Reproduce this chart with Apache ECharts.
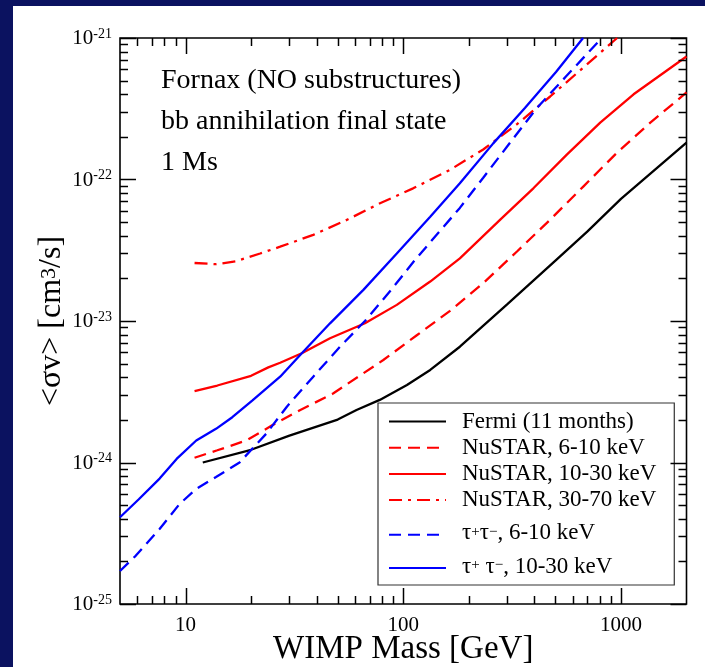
<!DOCTYPE html>
<html>
<head>
<meta charset="utf-8">
<script src="https://cdn.jsdelivr.net/npm/echarts@6/dist/echarts.min.js"></script>
<style>
  html, body { margin: 0; padding: 0; background: #0b1260; }
  #chart { width: 705px; height: 667px; }
</style>
</head>
<body>
<div id="chart"></div>
<script>
// WIMP mass grid (GeV) and <sigma v> upper limits (cm^3/s) for each curve
const fermiMass  = [12, 20, 30, 50, 61, 78, 104, 133, 182, 300, 500, 700, 1000, 2000];
const fermiSigma = [1.0e-24, 1.23e-24, 1.55e-24, 2.01e-24, 2.35e-24, 2.77e-24, 3.53e-24, 4.51e-24, 6.58e-24, 1.31e-23, 2.67e-23, 4.28e-23, 7.3e-23, 1.82e-22];

const nu610Mass  = [11, 14, 19, 25, 33.5, 47.6, 63, 81, 115, 164, 233, 333, 473, 673, 960, 1364, 2000];
const nu610Sigma = [1.08e-24, 1.22e-24, 1.43e-24, 1.83e-24, 2.34e-24, 3.07e-24, 4.1e-24, 5.3e-24, 7.9e-24, 1.18e-23, 1.85e-23, 3.1e-23, 5.2e-23, 8.95e-23, 1.55e-22, 2.52e-22, 4.12e-22];

const nu1030Mass  = [11, 14, 20, 24, 27.2, 34.2, 46.1, 66.7, 93.4, 133, 182, 279, 397, 564, 803, 1143, 2000];
const nu1030Sigma = [3.2e-24, 3.5e-24, 4.1e-24, 4.7e-24, 5.07e-24, 5.91e-24, 7.55e-24, 9.63e-24, 1.3e-23, 1.9e-23, 2.77e-23, 5.2e-23, 8.7e-23, 1.5e-22, 2.52e-22, 4.0e-22, 7.4e-22];

const nu3070Mass  = [11, 13.8, 17, 22, 27.2, 38.6, 55, 78.2, 111, 164, 233, 333, 473, 673, 960];
const nu3070Sigma = [2.57e-23, 2.52e-23, 2.64e-23, 3.0e-23, 3.35e-23, 4.06e-23, 5.18e-23, 6.79e-23, 8.66e-23, 1.17e-22, 1.63e-22, 2.46e-22, 3.86e-22, 6.2e-22, 1.0e-21];

const tau610Mass  = [5, 5.9, 7.6, 9.4, 11.2, 13.8, 17.7, 23.5, 29.2, 38.6, 51.3, 66.7, 86.9, 111, 143, 182, 233, 300, 410, 560, 785];
const tau610Sigma = [1.71e-25, 2.19e-25, 3.39e-25, 5.1e-25, 6.5e-25, 7.9e-25, 1.0e-24, 1.6e-24, 2.48e-24, 4.04e-24, 6.6e-24, 1.0e-23, 1.62e-23, 2.6e-23, 4.1e-23, 6.3e-23, 1.03e-22, 1.71e-22, 3.19e-22, 5.36e-22, 9.37e-22];

const tau1030Mass  = [5, 6.1, 7.6, 9.1, 11.2, 13.8, 16.4, 20.3, 27.2, 34.2, 46.1, 65.6, 93.4, 133, 182, 259, 362, 503, 670];
const tau1030Sigma = [4.1e-25, 5.5e-25, 7.7e-25, 1.06e-24, 1.43e-24, 1.73e-24, 2.09e-24, 2.75e-24, 4.04e-24, 5.91e-24, 9.63e-24, 1.66e-23, 3.0e-23, 5.45e-23, 9.4e-23, 1.8e-22, 3.2e-22, 5.75e-22, 1.0e-21];

// Axis ranges and labelled decades
const xMin = 5, xMax = 2000;
const yMin = 1e-25, yMax = 1e-21;
const xDecades = [10, 100, 1000];
const yDecades = [1e-25, 1e-24, 1e-23, 1e-22, 1e-21];

const seriesNames = [
  'Fermi (11 months)',
  'NuSTAR, 6-10 keV',
  'NuSTAR, 10-30 keV',
  'NuSTAR, 30-70 keV',
  'τ+τ−, 6-10 keV',
  'τ+ τ−, 10-30 keV'
];

const notes = ['Fornax (NO substructures)', 'bb annihilation final state', '1 Ms'];

const SERIF = "'Liberation Serif', 'DejaVu Serif', serif";

// The log scale loses precision on values this small, so the y axis works
// in multiples of Y_UNIT and the labels put the exponent back.
const Y_UNIT = 1e-25;
const Y_EXP0 = -25;
const toAxis = v => v / Y_UNIT;

function pairs(ms, vs) { return ms.map((m, i) => [m, toAxis(vs[i])]); }

// minor tick positions (2..9 within each decade) strictly inside the ranges
const xMinor = [];
[1, 10, 100, 1000].forEach(d => { for (let k = 2; k <= 9; k++) { const v = k * d; if (v > xMin && v < xMax) xMinor.push(v); } });
const yMinor = [];
[1, 10, 100, 1000].forEach(d => { for (let k = 2; k <= 9; k++) yMinor.push(k * d); });

const TICK_STYLE = { stroke: '#000', lineWidth: 1.5 };

function xTickSeries(values, len) {
  return {
    type: 'custom', silent: true, clip: false, z: 5,
    data: values.map(v => [v, 100]),
    renderItem: function (params, api) {
      const cs = params.coordSys;
      const x = Math.round(api.coord([api.value(0), 100])[0]) + 0.5;
      const b = cs.y + cs.height;
      return { type: 'group', children: [
        { type: 'line', shape: { x1: x, y1: b, x2: x, y2: b - len }, style: TICK_STYLE },
        { type: 'line', shape: { x1: x, y1: cs.y, x2: x, y2: cs.y + len }, style: TICK_STYLE }
      ] };
    }
  };
}

function yTickSeries(values, len) {
  return {
    type: 'custom', silent: true, clip: false, z: 5,
    data: values.map(v => [10, v]),
    renderItem: function (params, api) {
      const cs = params.coordSys;
      const y = Math.round(api.coord([10, api.value(1)])[1]) + 0.5;
      const r = cs.x + cs.width;
      return { type: 'group', children: [
        { type: 'line', shape: { x1: cs.x, y1: y, x2: cs.x + len, y2: y }, style: TICK_STYLE },
        { type: 'line', shape: { x1: r, y1: y, x2: r - len, y2: y }, style: TICK_STYLE }
      ] };
    }
  };
}

function lineSeries(name, ms, vs, color, dash) {
  return {
    name: name, type: 'line', data: pairs(ms, vs),
    symbol: 'none', showSymbol: false, smooth: false, clip: true, z: 3,
    lineStyle: { color: color, width: 2.3, type: dash },
    itemStyle: { color: color }
  };
}

const DASH = [12, 7];
const DASH_DOT = [13, 6, 3, 6];

const chart = echarts.init(document.getElementById('chart'), null, { renderer: 'canvas' });

chart.setOption({
  backgroundColor: '#0b1260',
  animation: false,
  textStyle: { fontFamily: SERIF },
  grid: {
    left: 120, right: 18.5, top: 38, bottom: 63,
    outerBoundsMode: 'none', containLabel: false,
    show: true, borderColor: '#000', borderWidth: 1.6
  },
  graphic: [
    { type: 'rect', z: -10, shape: { x: 13, y: 6, width: 705, height: 667 }, style: { fill: '#ffffff' } },
    { type: 'text', z: 10, x: 161, y: 80.5, style: { text: notes[0], font: '28px ' + SERIF, fill: '#000', verticalAlign: 'middle' } },
    { type: 'text', z: 10, x: 161, y: 121.5, style: { text: notes[1], font: '28px ' + SERIF, fill: '#000', verticalAlign: 'middle' } },
    { type: 'text', z: 10, x: 161, y: 162.5, style: { text: notes[2], font: '28px ' + SERIF, fill: '#000', verticalAlign: 'middle' } }
  ],
  xAxis: {
    type: 'log', logBase: 10, min: xMin, max: xMax,
    axisLine: { show: false }, axisTick: { show: false }, splitLine: { show: false },
    axisLabel: {
      color: '#000', fontFamily: SERIF, fontSize: 21, margin: 11,
      showMinLabel: false, showMaxLabel: false,
      formatter: function (v) { return xDecades.some(d => Math.abs(d - v) / d < 1e-6) ? String(Math.round(v)) : ''; }
    },
    name: 'WIMP Mass [GeV]', nameLocation: 'middle', nameGap: 29, nameMoveOverlap: false,
    nameTextStyle: { color: '#000', fontFamily: SERIF, fontSize: 33 }
  },
  yAxis: {
    type: 'log', logBase: 10, min: toAxis(yMin), max: toAxis(yMax),
    axisLine: { show: false }, axisTick: { show: false }, splitLine: { show: false },
    axisLabel: {
      color: '#000', margin: 8,
      formatter: function (v) {
        const e = Math.round(Math.log10(v)) + Y_EXP0;
        return yDecades.some(d => Math.round(Math.log10(d)) === e) ? '{b|10}{s|' + e + '}' : '';
      },
      rich: {
        b: { fontFamily: SERIF, fontSize: 21, lineHeight: 22, verticalAlign: 'bottom', padding: [10, 0, 0, 0], color: '#000' },
        s: { fontFamily: SERIF, fontSize: 14, lineHeight: 14, verticalAlign: 'top', color: '#000' }
      }
    },
    name: '{t|<σv> [cm}{s|3}{t|/s]}', nameLocation: 'middle', nameRotate: 90, nameGap: 52, nameMoveOverlap: false,
    nameTextStyle: {
      color: '#000',
      rich: {
        t: { fontFamily: SERIF, fontSize: 32, lineHeight: 30, verticalAlign: 'bottom', padding: [14, 0, 0, 0], color: '#000' },
        s: { fontFamily: SERIF, fontSize: 22, lineHeight: 18, verticalAlign: 'top', color: '#000' }
      }
    }
  },
  legend: {
    orient: 'vertical', left: 378, top: 403,
    padding: [7, 18, 7, 10], itemGap: 3.2, itemWidth: 57, itemHeight: 14,
    backgroundColor: '#fff', borderColor: '#333', borderWidth: 1.2, borderRadius: 0,
    itemStyle: { opacity: 0 },
    data: seriesNames,
    formatter: function (name) {
      if (name.charAt(0) === 'τ') {
        const rest = name.split(',')[1];
        const mid = name.indexOf('+ ') >= 0 ? ' τ' : 'τ';
        return '{v|τ}{s|+}{u|' + mid + '}{s|−}{u|,' + rest + '}';
      }
      return '{t|' + name + '}';
    },
    textStyle: {
      color: '#000', fontFamily: SERIF, fontSize: 23, lineHeight: 20,
      rich: {
        t: { fontFamily: SERIF, fontSize: 23, lineHeight: 20, padding: [0, 0, 0, 11], color: '#000' },
        v: { fontFamily: SERIF, fontSize: 23, lineHeight: 20, verticalAlign: 'bottom', padding: [7, 0, 0, 11], color: '#000' },
        u: { fontFamily: SERIF, fontSize: 23, lineHeight: 20, verticalAlign: 'bottom', padding: [7, 0, 0, 0], color: '#000' },
        s: { fontFamily: SERIF, fontSize: 15, lineHeight: 10, verticalAlign: 'top', color: '#000' }
      }
    }
  },
  series: [
    lineSeries(seriesNames[0], fermiMass, fermiSigma, '#000000', 'solid'),
    lineSeries(seriesNames[1], nu610Mass, nu610Sigma, '#ff0000', DASH),
    lineSeries(seriesNames[2], nu1030Mass, nu1030Sigma, '#ff0000', 'solid'),
    lineSeries(seriesNames[3], nu3070Mass, nu3070Sigma, '#ff0000', DASH_DOT),
    lineSeries(seriesNames[4], tau610Mass, tau610Sigma, '#0000ff', DASH),
    lineSeries(seriesNames[5], tau1030Mass, tau1030Sigma, '#0000ff', 'solid'),
    xTickSeries(xDecades, 16),
    xTickSeries(xMinor, 8),
    yTickSeries(yDecades.map(toAxis), 16),
    yTickSeries(yMinor, 8)
  ]
});
</script>
</body>
</html>
